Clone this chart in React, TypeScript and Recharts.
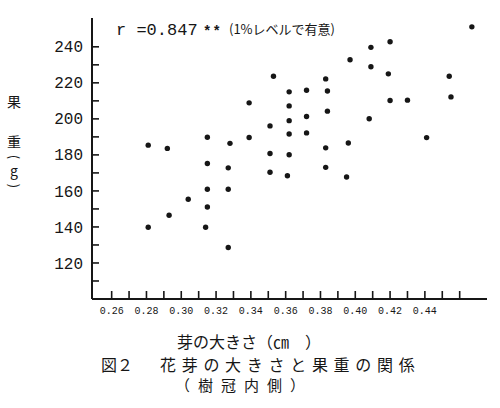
import React from 'react';
import { ScatterChart, Scatter, XAxis, YAxis } from 'recharts';

// 芽の大きさ (cm) と 果重 (g)、樹冠内側
const budSize = [
  0.281, 0.281, 0.292, 0.293, 0.304, 0.315, 0.315, 0.315, 0.315, 0.314,
  0.328, 0.327, 0.327, 0.327, 0.339, 0.339, 0.353, 0.351, 0.351, 0.351,
  0.362, 0.362, 0.362, 0.362, 0.362, 0.361, 0.372, 0.372, 0.372, 0.383,
  0.384, 0.384, 0.383, 0.383, 0.397, 0.396, 0.395, 0.409, 0.409, 0.408,
  0.42, 0.419, 0.42, 0.43, 0.441, 0.454, 0.455, 0.467,
];
const fruitWeight = [
  185.4, 139.8, 183.6, 146.5, 155.4, 189.8, 175.2, 160.9, 151.1, 139.8,
  186.4, 172.8, 160.9, 128.6, 208.9, 189.7, 223.7, 196.1, 180.8, 170.4,
  215.0, 207.2, 199.0, 191.6, 180.1, 168.4, 215.9, 201.3, 192.2, 222.2,
  215.5, 204.3, 183.9, 173.1, 232.8, 186.6, 167.7, 239.7, 228.9, 200.1,
  242.8, 225.0, 210.2, 210.4, 189.6, 223.7, 212.2, 251.1,
];

const xTicks = [
  0.26, 0.27, 0.28, 0.29, 0.3, 0.31, 0.32, 0.33, 0.34, 0.35, 0.36,
  0.37, 0.38, 0.39, 0.4, 0.41, 0.42, 0.43, 0.44, 0.45, 0.46,
];
const xTickLabels = ['0.26', '0.28', '0.30', '0.32', '0.34', '0.36', '0.38', '0.40', '0.42', '0.44'];
const yTicks = [110, 120, 130, 140, 150, 160, 170, 180, 190, 200, 210, 220, 230, 240];
const yTickLabels = [120, 140, 160, 180, 200, 220, 240];

const points = budSize.map((x, i) => ({ x, y: fruitWeight[i] }));

const INK = '#161616';
const JP = '"Noto Sans CJK JP", "Noto Sans", sans-serif';
const MONO = '"Liberation Mono", "DejaVu Sans Mono", monospace';

function XTick(props: any) {
  const { x, y, payload } = props;
  const label = Number(payload.value).toFixed(2);
  return (
    <g>
      <line x1={x} y1={y} x2={x} y2={y - 8} stroke={INK} strokeWidth={1.6} />
      {xTickLabels.includes(label) && (
        <text x={x} y={y + 15} textAnchor="middle" fontFamily={MONO} fontSize={10} fill={INK}>
          {label}
        </text>
      )}
    </g>
  );
}

function YTick(props: any) {
  const { x, y, payload } = props;
  const v = Number(payload.value);
  return (
    <g>
      <line x1={x} y1={y} x2={x + 7} y2={y} stroke={INK} strokeWidth={1.6} />
      {yTickLabels.includes(v) && (
        <text x={x - 9} y={y} dy="0.35em" textAnchor="end" fontFamily={MONO} fontSize={16} fill={INK}>
          {v}
        </text>
      )}
    </g>
  );
}

const Dot = (p: any) => <circle cx={p.cx} cy={p.cy} r={2.7} fill={INK} />;

const abs = (left: number, top: number, extra: React.CSSProperties = {}): React.CSSProperties => ({
  position: 'absolute',
  left,
  top,
  lineHeight: 1,
  whiteSpace: 'pre',
  color: INK,
  ...extra,
});

// 縦書きの括弧 (90度回転)
const paren = (top: number): React.CSSProperties =>
  abs(7, top, { width: 14, height: 14, textAlign: 'center', fontFamily: JP, fontSize: 13, transform: 'rotate(90deg)' });

export default function App() {
  return (
    <div style={{ position: 'absolute', left: 0, top: 0, width: 500, height: 408, background: '#fff', overflow: 'hidden' }}>
      <ScatterChart width={500} height={408} margin={{ top: 18, right: 13, bottom: 79, left: 0 }}>
        <XAxis
          type="number"
          dataKey="x"
          domain={[0.2487, 0.4757]}
          allowDataOverflow
          ticks={xTicks}
          interval={0}
          height={30}
          tickSize={0}
          tickMargin={0}
          tickLine={false}
          axisLine={{ stroke: INK, strokeWidth: 2 }}
          tick={<XTick />}
        />
        <YAxis
          type="number"
          dataKey="y"
          domain={[100, 256]}
          allowDataOverflow
          ticks={yTicks}
          interval={0}
          width={92}
          tickSize={0}
          tickMargin={0}
          tickLine={false}
          axisLine={{ stroke: INK, strokeWidth: 2 }}
          tick={<YTick />}
        />
        <Scatter data={points} fill={INK} shape={Dot} isAnimationActive={false} />
      </ScatterChart>

      {/* 相関係数 */}
      <div style={abs(116, 22, { fontFamily: MONO, fontSize: 17 })}>r =0.847</div>
      <div style={abs(203, 25, { fontFamily: MONO, fontSize: 14, fontWeight: 700, letterSpacing: 1 })}>**</div>
      <div style={abs(229, 22, { fontFamily: JP, fontSize: 13 })}>(1%レベルで有意)</div>

      {/* 縦軸タイトル */}
      <div style={abs(7, 94, { fontFamily: JP, fontSize: 14 })}>果</div>
      <div style={abs(7, 134, { fontFamily: JP, fontSize: 14 })}>重</div>
      <div style={paren(150)}>(</div>
      <div style={abs(7, 163, { width: 14, textAlign: 'center', fontFamily: JP, fontSize: 14 })}>g</div>
      <div style={paren(179)}>)</div>

      {/* 横軸タイトル */}
      <div style={abs(177, 333, { fontFamily: JP, fontSize: 16 })}>芽の大きさ（㎝　）</div>

      {/* 図タイトル */}
      <div style={abs(101, 356, { fontFamily: JP, fontSize: 16 })}>図２</div>
      <div style={abs(160, 356, { fontFamily: JP, fontSize: 16, letterSpacing: 5.7 })}>花芽の大きさと果重の関係</div>
      <div style={abs(175, 377, { fontFamily: JP, fontSize: 15, letterSpacing: 8 })}>（樹冠内側）</div>
    </div>
  );
}
